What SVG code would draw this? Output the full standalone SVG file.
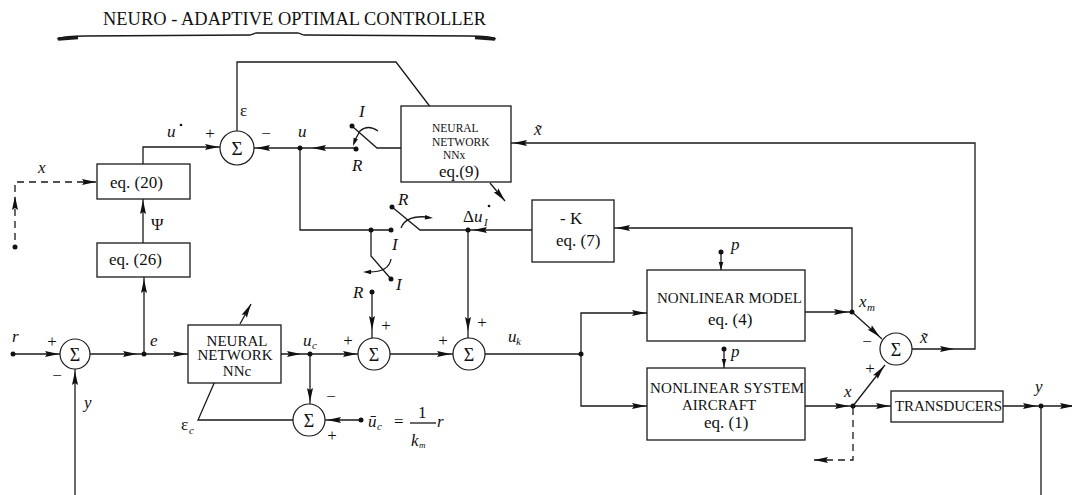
<svg xmlns="http://www.w3.org/2000/svg" xmlns:xlink="http://www.w3.org/1999/xlink" width="1072" height="495" viewBox="0 0 1072 495">
<style>
.ln{fill:none;stroke:#1a1a1a;stroke-width:1.3}
.dash{stroke-dasharray:7 5}
.box{fill:#fff;stroke:#1a1a1a;stroke-width:1.3}
.sum{fill:#fff;stroke:#1a1a1a;stroke-width:1.2}
.dot{fill:#111}
.ah{fill:#111}
.t{font-family:"Liberation Serif","Times New Roman",serif;fill:#111;font-size:17px}
.it{font-style:italic}
.sm{font-size:11px}
.bx{font-size:15px}
.c{text-anchor:middle}
</style>
<defs>
<path id="ah" class="ah" d="M0,0 L-14,-3 L-12,0 L-14,3 Z"/>
<path id="ahs" class="ah" d="M0,0 L-8,-2.3 L-8,2.3 Z"/>
</defs>
<rect width="1072" height="495" fill="#fff"/>

<g id="title">
<text class="t" x="103" y="25" style="font-size:18.4px" textLength="383">NEURO - ADAPTIVE OPTIMAL CONTROLLER</text>
<path class="ln" d="M57,39 C65,36 75,36 85,36 L250,35 L256,33 L298,33 L304,35 L470,36 C480,36 490,36 496,39"/>
<path class="ln" style="stroke-width:3.5" d="M58,39 L78,37.5 M475,37.5 L495,39"/>
</g>

<g id="connectors">
<path class="ln" d="M237,131 V62 H396 L441,121"/>
<path class="ln" d="M143,164 V147 H220"/>
<path class="ln" d="M254,148 H356"/>
<path class="ln" d="M353,127 L377,148 H401"/>
<path class="ln" d="M300,148 V230 H391"/>
<path class="ln" d="M392,207 L420,230 H532"/>
<path class="ln" d="M468,230 V338"/>
<path class="ln" d="M371,230 V256 L391,279"/>
<path class="ln" d="M372,292 V338"/>
<path class="ln dash" d="M96,182 H15 V247"/>
<path class="ln" d="M143,243 V199"/>
<path class="ln" d="M144,354 V277"/>
<path class="ln" d="M13,354 H60"/>
<path class="ln" d="M75,495 V369"/>
<path class="ln" d="M90,354 H188"/>
<path class="ln" d="M281,354 H358"/>
<path class="ln" d="M310,354 V404"/>
<path class="ln" d="M390,354 H453"/>
<path class="ln" d="M485,354 H581"/>
<path class="ln" d="M647,313 H581 V406 H647"/>
<path class="ln" d="M805,312 H852"/>
<path class="ln" d="M852,312 V228 H614"/>
<path class="ln" d="M852,312 L882,339"/>
<path class="ln" d="M805,406 H891"/>
<path class="ln" d="M853,406 L885,365"/>
<path class="ln" d="M1003,406 H1072"/>
<path class="ln" d="M1041,406 V495"/>
<path class="ln dash" d="M853,408 V460 H814"/>
<path class="ln" d="M912,349 H975 V143 H511"/>
<path class="ln" d="M293,420 H198 L219,372"/>
<path class="ln" d="M361,420 H325"/>
<path class="ln" d="M721,252 V270"/>
<path class="ln" d="M724,349 V368"/>
<path class="ln" d="M490,183 L505,201"/>
<path class="ln" d="M240,324 L251,304"/>
<path class="ln" d="M378,131 Q368,124 360,131 L355,140"/>
<path class="ln" d="M401,228 Q406,215 427,217"/>
<path class="ln" d="M391,259 Q389,272 369,272"/>

<use xlink:href="#ah" transform="translate(96,182)"/>
<use xlink:href="#ah" transform="translate(15,196) rotate(-90)"/>
<use xlink:href="#ah" transform="translate(219,147)"/>
<use xlink:href="#ah" transform="translate(256,148) rotate(180)"/>
<use xlink:href="#ah" transform="translate(312,148) rotate(180)"/>
<use xlink:href="#ah" transform="translate(143,200) rotate(-90)"/>
<use xlink:href="#ah" transform="translate(144,279) rotate(-90)"/>
<use xlink:href="#ah" transform="translate(59,354)"/>
<use xlink:href="#ah" transform="translate(75,371) rotate(-90)"/>
<use xlink:href="#ah" transform="translate(137,354)"/>
<use xlink:href="#ah" transform="translate(187,354)"/>
<use xlink:href="#ah" transform="translate(301,354)"/>
<use xlink:href="#ah" transform="translate(357,354)"/>
<use xlink:href="#ah" transform="translate(310,402) rotate(90)"/>
<use xlink:href="#ah" transform="translate(372,330) rotate(90)"/>
<use xlink:href="#ah" transform="translate(451,354)"/>
<use xlink:href="#ah" transform="translate(468,331) rotate(90)"/>
<use xlink:href="#ah" transform="translate(327,420) rotate(180)"/>
<use xlink:href="#ah" transform="translate(473,230) rotate(180)"/>
<use xlink:href="#ah" transform="translate(513,143) rotate(180)"/>
<use xlink:href="#ah" transform="translate(616,228) rotate(180)"/>
<use xlink:href="#ah" transform="translate(646,313)"/>
<use xlink:href="#ah" transform="translate(646,406)"/>
<use xlink:href="#ah" transform="translate(848,312)"/>
<use xlink:href="#ah" transform="translate(849,406)"/>
<use xlink:href="#ah" transform="translate(890,406)"/>
<use xlink:href="#ah" transform="translate(1037,406)"/>
<use xlink:href="#ah" transform="translate(1074,406)"/>
<use xlink:href="#ah" transform="translate(954,349)"/>
<use xlink:href="#ah" transform="translate(880,337) rotate(43)"/>
<use xlink:href="#ah" transform="translate(884,366) rotate(-52)"/>
<use xlink:href="#ah" transform="translate(814,460) rotate(180)"/>
<use xlink:href="#ah" transform="translate(505,201) rotate(50)"/>
<use xlink:href="#ah" transform="translate(251,304) rotate(-61)"/>
<use xlink:href="#ahs" transform="translate(721,270) rotate(90)"/>
<use xlink:href="#ahs" transform="translate(724,367) rotate(90)"/>
<use xlink:href="#ahs" transform="translate(353,146) rotate(110)"/>
<use xlink:href="#ahs" transform="translate(433,218) rotate(5)"/>
<use xlink:href="#ahs" transform="translate(363,272) rotate(180)"/>

<circle class="dot" cx="300" cy="148" r="2.5"/>
<circle class="dot" cx="352" cy="126" r="2.5"/>
<circle class="dot" cx="356" cy="149" r="2.5"/>
<circle class="dot" cx="371" cy="230" r="2.5"/>
<circle class="dot" cx="391" cy="230" r="2.5"/>
<circle class="dot" cx="392" cy="207" r="2.5"/>
<circle class="dot" cx="391" cy="279" r="2.5"/>
<circle class="dot" cx="372" cy="292" r="2.5"/>
<circle class="dot" cx="468" cy="230" r="2.5"/>
<circle class="dot" cx="15" cy="247" r="2.5"/>
<circle class="dot" cx="13" cy="354" r="2.5"/>
<circle class="dot" cx="144" cy="354" r="2.5"/>
<circle class="dot" cx="310" cy="354" r="2.5"/>
<circle class="dot" cx="581" cy="354" r="2.5"/>
<circle class="dot" cx="852" cy="312" r="2.5"/>
<circle class="dot" cx="853" cy="406" r="2.5"/>
<circle class="dot" cx="1041" cy="406" r="2.5"/>
<circle class="dot" cx="361" cy="420" r="2.5"/>
<circle class="dot" cx="721" cy="252" r="2.5"/>
<circle class="dot" cx="724" cy="349" r="2.5"/>
</g>

<g id="eq20"><rect class="box" x="97" y="164" width="93" height="35"/><text class="t" x="110" y="188">eq. (20)</text></g>
<g id="eq26"><rect class="box" x="97" y="243" width="93" height="34"/><text class="t" x="109" y="265">eq. (26)</text></g>
<g id="nnx"><rect class="box" x="401" y="106" width="110" height="76"/>
<text class="t" style="font-size:11.5px" x="432" y="132">NEURAL</text>
<text class="t" style="font-size:11.5px" x="432" y="146">NETWORK</text>
<text class="t" style="font-size:11.5px" x="443" y="159">NNx</text>
<text class="t" x="439" y="177">eq.(9)</text></g>
<g id="nnc"><rect class="box" x="188" y="325" width="93" height="58"/>
<text class="t bx c" x="237" y="346">NEURAL</text>
<text class="t bx c" x="235" y="360">NETWORK</text>
<text class="t bx c" x="237" y="376">NNc</text></g>
<g id="gainK"><rect class="box" x="532" y="200" width="82" height="62"/>
<text class="t" x="560" y="224">- K</text><text class="t" x="556" y="246">eq. (7)</text></g>
<g id="nlmodel"><rect class="box" x="647" y="270" width="158" height="71"/>
<text class="t bx" x="657" y="303" textLength="145">NONLINEAR MODEL</text>
<text class="t" x="708" y="325">eq. (4)</text></g>
<g id="nlsystem"><rect class="box" x="647" y="368" width="158" height="72"/>
<text class="t bx" x="650" y="393" textLength="154">NONLINEAR SYSTEM</text>
<text class="t bx" x="682" y="410">AIRCRAFT</text>
<text class="t" x="704" y="428">eq. (1)</text></g>
<g id="transducers"><rect class="box" x="891" y="391" width="112" height="31"/>
<text class="t bx" x="895" y="411" textLength="107">TRANSDUCERS</text></g>

<g id="sum1"><circle class="sum" cx="237" cy="148" r="17"/><text class="t c" style="font-size:19px" x="237" y="155">Σ</text></g>
<g id="sumr"><circle class="sum" cx="75" cy="354" r="15"/><text class="t c" style="font-size:18px" x="75" y="361">Σ</text></g>
<g id="sum3"><circle class="sum" cx="374" cy="354" r="16"/><text class="t c" style="font-size:18px" x="374" y="361">Σ</text></g>
<g id="sum4"><circle class="sum" cx="469" cy="354" r="16"/><text class="t c" style="font-size:18px" x="469" y="361">Σ</text></g>
<g id="sum5"><circle class="sum" cx="309" cy="420" r="16"/><text class="t c" style="font-size:18px" x="309" y="427">Σ</text></g>
<g id="sum6"><circle class="sum" cx="896" cy="349" r="16"/><text class="t c" style="font-size:18px" x="896" y="356">Σ</text></g>

<g id="labels">
<text class="t it" x="167" y="137">u</text><circle class="dot" cx="181" cy="125" r="1.3"/>
<text class="t c" x="210" y="139">+</text>
<text class="t c" x="266" y="139">−</text>
<text class="t" x="240" y="116">ε</text>
<text class="t it" x="298" y="137">u</text>
<text class="t it" x="359" y="117">I</text>
<text class="t it" x="352" y="171">R</text>
<text class="t it" x="38" y="173">x</text>
<text class="t" x="151" y="230">Ψ</text>
<text class="t it" x="534" y="135">x̃</text>
<text class="t it" x="398" y="205">R</text>
<text class="t it" x="392" y="250">I</text>
<text class="t it" x="396" y="290">I</text>
<text class="t it" x="353" y="298">R</text>
<text class="t" x="463" y="222">Δ<tspan class="it">u</tspan></text><text class="t it sm" x="484" y="226">I</text><circle class="dot" cx="489" cy="206" r="1.3"/>
<text class="t it" x="12" y="342">r</text>
<text class="t c" x="52" y="347">+</text>
<text class="t c" x="57" y="381">−</text>
<text class="t it" x="84" y="408">y</text>
<text class="t it" x="150" y="346">e</text>
<text class="t it" x="303" y="346">u</text><text class="t it sm" x="312" y="349">c</text>
<text class="t c" x="348" y="346">+</text>
<text class="t c" x="386" y="331">+</text>
<text class="t c" x="443" y="346">+</text>
<text class="t c" x="482" y="328">+</text>
<text class="t it" x="508" y="342">u</text><text class="t it sm" x="516" y="345">k</text>
<text class="t c" x="331" y="402">−</text>
<text class="t c" x="332" y="441">+</text>
<text class="t" x="181" y="430">ε</text><text class="t it sm" x="189" y="434">c</text>
<text class="t it" x="368" y="427">ū</text><text class="t it sm" x="377" y="430">c</text>
<text class="t" x="394" y="427">=</text>
<text class="t" x="418" y="418">1</text>
<path class="ln" d="M410,423 H436"/>
<text class="t it" x="411" y="446">k</text><text class="t it" style="font-size:9px" x="419" y="448">m</text>
<text class="t it" x="437" y="427">r</text>
<text class="t it" x="731" y="250">p</text>
<text class="t it" x="731" y="357">p</text>
<text class="t it" x="844" y="397">x</text>
<text class="t c" x="870" y="374">+</text>
<text class="t c" x="867" y="347">−</text>
<text class="t it" x="859" y="307">x</text><text class="t it sm" x="867" y="311">m</text>
<text class="t it" x="920" y="343">x̃</text>
<text class="t it" x="1035" y="392">y</text>
</g>
</svg>
